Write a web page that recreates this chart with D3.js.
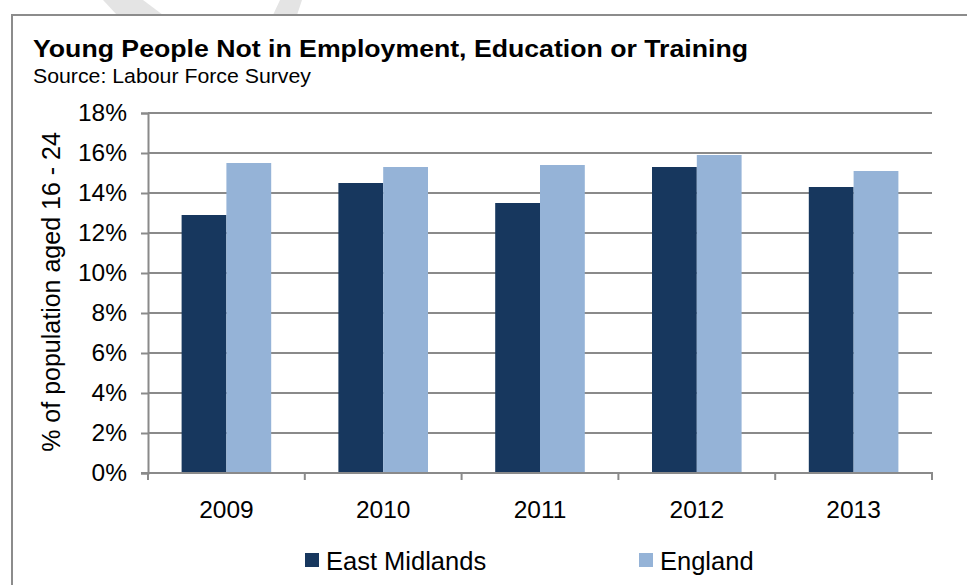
<!DOCTYPE html>
<html>
<head>
<meta charset="utf-8">
<script src="https://cdn.jsdelivr.net/npm/d3@7"></script>
<style>
  html, body { margin: 0; padding: 0; background: #fff; }
  svg { display: block; font-family: "Liberation Sans", Arial, sans-serif; }
</style>
</head>
<body>
<svg id="chart" width="967" height="585"></svg>
<script>
// NEET rate by year, young people aged 16-24
const years = ["2009", "2010", "2011", "2012", "2013"];
const seriesNames = ["East Midlands", "England"];
const eastMidlands = [12.9, 14.5, 13.5, 15.3, 14.3];
const england = [15.5, 15.3, 15.4, 15.9, 15.1];
const yTicks = [0, 2, 4, 6, 8, 10, 12, 14, 16, 18];
const colors = ["#17375e", "#95b3d7"];

const svg = d3.select("#chart");
const W = 967, H = 585;

// faint background emblem strokes peeking above the frame
svg.append("path")
  .attr("d", "M103,0 L143,0 L163,15 L117,15 Z")
  .attr("fill", "#e4e4e4");
svg.append("path")
  .attr("d", "M280,0 L302,0 L297,15 L273,15 Z")
  .attr("fill", "#e4e4e4");

// chart frame
svg.append("rect")
  .attr("x", 12).attr("y", 15)
  .attr("width", W + 20).attr("height", H + 20)
  .attr("fill", "#fff")
  .attr("stroke", "#8c8c8c").attr("stroke-width", 2);

// titles
svg.append("text")
  .attr("x", 33).attr("y", 57)
  .attr("font-size", 24).attr("font-weight", "bold")
  .attr("fill", "#000")
  .attr("textLength", 715).attr("lengthAdjust", "spacingAndGlyphs")
  .text("Young People Not in Employment, Education or Training");
svg.append("text")
  .attr("x", 33).attr("y", 83)
  .attr("font-size", 20.5)
  .attr("fill", "#000")
  .attr("textLength", 278).attr("lengthAdjust", "spacingAndGlyphs")
  .text("Source: Labour Force Survey");

const plot = { left: 148, right: 932, top: 113, bottom: 473 };

const x0 = d3.scaleBand().domain(years).range([plot.left, plot.right]).paddingInner(0).paddingOuter(0);
// bar pair occupies 2 / 3.5 of each category (gap = 1.5 bar widths)
const barW = x0.bandwidth() / 3.5;
const x1 = d3.scaleBand().domain(seriesNames).range([0, barW * 2]);
const y = d3.scaleLinear().domain([0, 18]).range([plot.bottom, plot.top]);

const gridColor = "#8a8a8a";

// horizontal gridlines
svg.append("g")
  .selectAll("line")
  .data(yTicks.filter(d => d > 0))
  .join("line")
  .attr("x1", plot.left).attr("x2", plot.right)
  .attr("y1", d => y(d)).attr("y2", d => y(d))
  .attr("stroke", gridColor).attr("stroke-width", 2);

// bars
const data = years.map((yr, i) => ({ year: yr, values: [eastMidlands[i], england[i]] }));
const groups = svg.append("g")
  .selectAll("g")
  .data(data)
  .join("g")
  .attr("transform", d => `translate(${x0(d.year) + (x0.bandwidth() - barW * 2) / 2},0)`);
groups.selectAll("rect")
  .data(d => d.values.map((v, k) => ({ name: seriesNames[k], value: v, k })))
  .join("rect")
  .attr("x", d => x1(d.name))
  .attr("width", x1.bandwidth())
  .attr("y", d => y(d.value))
  .attr("height", d => y(0) - y(d.value))
  .attr("fill", d => colors[d.k]);

// y axis
const yAxis = d3.axisLeft(y)
  .tickValues(yTicks)
  .tickSize(7)
  .tickPadding(14)
  .tickFormat(d => d + "%");
const gy = svg.append("g")
  .attr("transform", `translate(${plot.left},0)`)
  .call(yAxis);
gy.select(".domain").attr("stroke", gridColor).attr("stroke-width", 2);
gy.selectAll(".tick line").attr("stroke", gridColor).attr("stroke-width", 2);
gy.selectAll(".tick text")
  .attr("font-family", "Liberation Sans, Arial, sans-serif")
  .attr("font-size", 24.5).attr("fill", "#000");

// x axis with ticks at category boundaries
const gx = svg.append("g")
  .attr("transform", `translate(0,${plot.bottom})`);
gx.append("line")
  .attr("x1", plot.left - 7).attr("x2", plot.right + 1)
  .attr("stroke", gridColor).attr("stroke-width", 2);
const boundaries = years.map(yr => x0(yr)).concat([x0(years[years.length - 1]) + x0.bandwidth()]);
gx.selectAll("line.tk")
  .data(boundaries)
  .join("line")
  .attr("class", "tk")
  .attr("x1", d => d).attr("x2", d => d)
  .attr("y1", 0).attr("y2", 7)
  .attr("stroke", gridColor).attr("stroke-width", 2);
gx.selectAll("text")
  .data(years)
  .join("text")
  .attr("x", d => x0(d) + x0.bandwidth() / 2)
  .attr("y", 45)
  .attr("text-anchor", "middle")
  .attr("font-size", 24.5).attr("fill", "#000")
  .text(d => d);

// y axis title
svg.append("text")
  .attr("transform", "translate(60,292) rotate(-90)")
  .attr("text-anchor", "middle")
  .attr("font-size", 25).attr("fill", "#000")
  .text("% of population aged 16 - 24");

// legend
const legendPos = [305, 639];
const lg = svg.append("g")
  .selectAll("g")
  .data(seriesNames)
  .join("g")
  .attr("transform", (d, i) => `translate(${legendPos[i]},553)`);
lg.append("rect")
  .attr("width", 14).attr("height", 14)
  .attr("fill", (d, i) => colors[i]);
lg.append("text")
  .attr("x", 21).attr("y", 17)
  .attr("font-size", 25.5).attr("fill", "#000")
  .text(d => d);
</script>
</body>
</html>
